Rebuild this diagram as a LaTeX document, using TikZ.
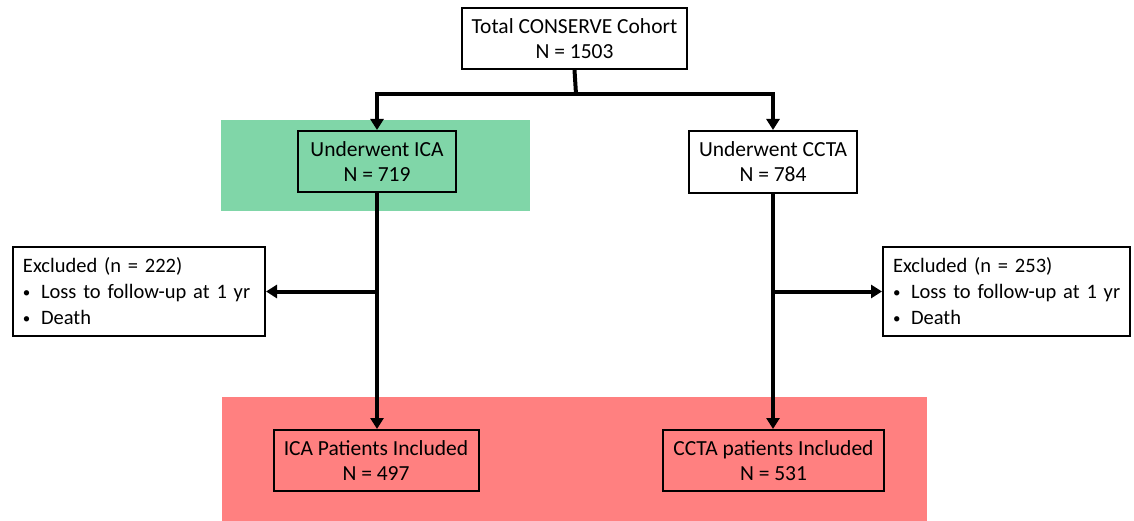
\documentclass[tikz,border=0pt]{standalone}
\usepackage{fontspec}
\setmainfont{Carlito}
\usetikzlibrary{arrows.meta}
\definecolor{boxgreen}{HTML}{80D6A8}
\definecolor{boxpink}{HTML}{FF8080}
\tikzset{
  flowbox/.style={draw=black, line width=2pt, inner sep=0pt, align=center,
    font=\fontsize{21.5}{25}\selectfont},
  exbox/.style={flowbox, fill=white, minimum height=89pt, align=left,
    inner xsep=10pt, font=\fontsize{20.5}{26}\selectfont},
  conn/.style={line width=4pt},
  arr/.style={line width=4pt, -{Triangle[width=13pt,length=11pt]}},
}
\newcommand{\bul}{\makebox[18pt][l]{\raisebox{1pt}{\fontsize{15}{15}\selectfont\textbullet}}}
\begin{document}
\begin{tikzpicture}[x=1pt,y=-1pt]
\useasboundingbox (0,0) rectangle (1134,521);
\fill[boxgreen] (221,120) rectangle (530,211);
\fill[boxpink] (222,397) rectangle (927,521);

\node[flowbox, fill=white, minimum width=225pt, minimum height=61pt] (top) at (574.5,38.5) {Total CONSERVE Cohort\\N = 1503};
\node[flowbox, minimum width=158pt, minimum height=61pt] (ica) at (377,161.5) {Underwent ICA\\N = 719};
\node[flowbox, fill=white, minimum width=168pt, minimum height=62pt] (ccta) at (773,162) {Underwent CCTA\\N = 784};
\node[exbox, text width=232pt] (exl) at (139,291.5) {\mbox{Excluded (n = 222)}\\\mbox{\bul Loss to follow-up at 1 yr}\\\mbox{\bul Death}};
\node[exbox, text width=227pt] (exr) at (1006.5,291.5) {\mbox{Excluded (n = 253)}\\\mbox{\bul Loss to follow-up at 1 yr}\\\mbox{\bul Death}};
\node[flowbox, minimum width=205pt, minimum height=61pt] (icap) at (376,460.5) {ICA Patients Included\\N = 497};
\node[flowbox, minimum width=221pt, minimum height=61pt] (cctap) at (773.5,460.5) {CCTA patients Included\\N = 531};

\coordinate (bar) at (576,94);
\draw[conn] (top.south) -- (bar);
\draw[arr] ([xshift=2pt]bar) -| (ica.north);
\draw[arr] ([xshift=-2pt]bar) -| (ccta.north);
\draw[arr] (ica.south) -- (ica.south |- icap.north);
\draw[arr] (ccta.south) -- (ccta.south |- cctap.north);
\coordinate (bl) at (ica.south |- exl.east);
\coordinate (br) at (ccta.south |- exr.west);
\draw[arr] (bl) -- (exl.east);
\draw[arr] (br) -- (exr.west);
\end{tikzpicture}
\end{document}
